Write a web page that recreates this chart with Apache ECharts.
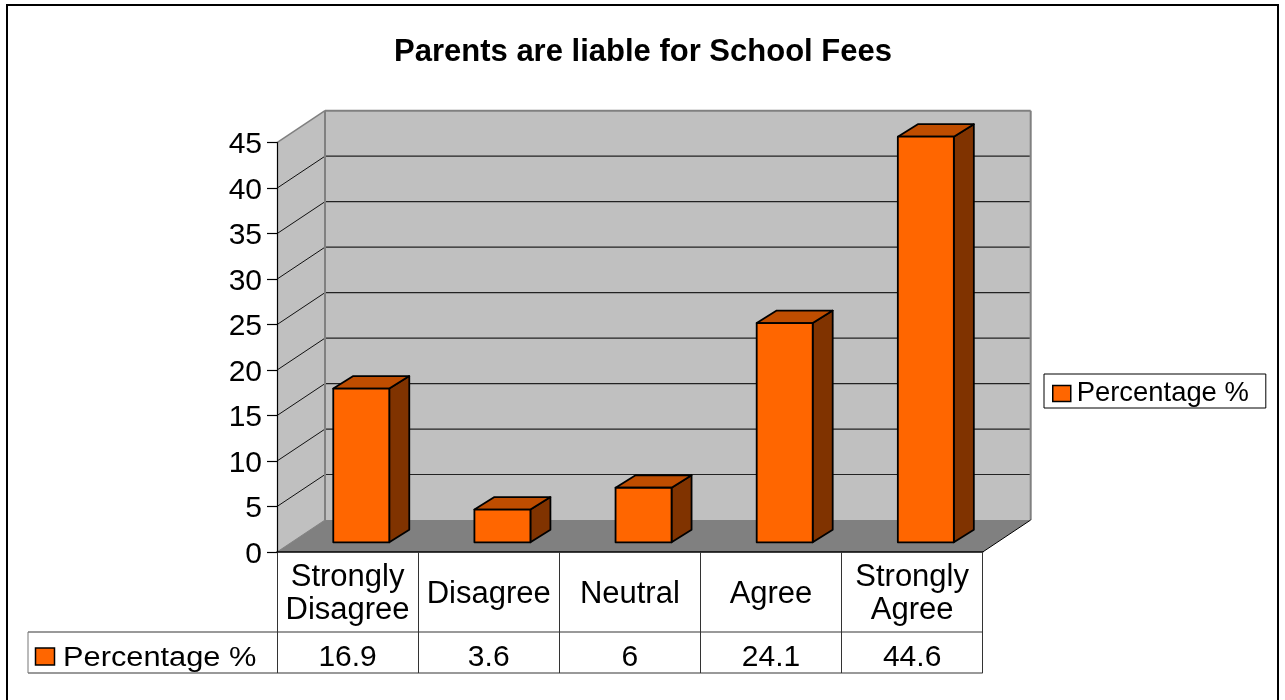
<!DOCTYPE html>
<html>
<head>
<meta charset="utf-8">
<style>html,body{margin:0;padding:0;background:#fff}#c{width:1285px;height:700px}</style>
<script src="https://cdn.jsdelivr.net/npm/echarts@6/dist/echarts.min.js"></script>
</head>
<body>
<div id="c"></div>
<script>
const titleText = 'Parents are liable for School Fees';
const seriesName = 'Percentage %';
const categories = ['Strongly\nDisagree', 'Disagree', 'Neutral', 'Agree', 'Strongly\nAgree'];
const values = [16.9, 3.6, 6, 24.1, 44.6];
const valueLabels = ['16.9', '3.6', '6', '24.1', '44.6'];
const yTicks = [0, 5, 10, 15, 20, 25, 30, 35, 40, 45];

const FONT = '"Liberation Sans", Arial, sans-serif';
const G = {left: 277, top: 142.7, width: 705.7, height: 409.3};
const WALL = {dx: 48, dy: -32};
const BAR = {ox: -14.3, w: 56, oy: -9.7, dx: 20, dy: -12.5};
const GREY = '#808080';

function poly(points, fill, stroke, lw) {
  return {type: 'polygon', shape: {points}, style: {fill, stroke: stroke || null, lineWidth: lw || 0, lineJoin: 'round'}};
}
function seg(x1, y1, x2, y2, stroke, lw) {
  return {type: 'line', shape: {x1, y1, x2, y2}, style: {stroke, lineWidth: lw}};
}

function renderWalls(params, api) {
  const b = api.coord([0, 0]), t = api.coord([0, 45]);
  const xL = G.left, xR = G.left + G.width, y0 = b[1], yT = t[1];
  const d = WALL;
  return {type: 'group', children: [
    poly([[xL, y0], [xL + d.dx, y0 + d.dy], [xL + d.dx, yT + d.dy], [xL, yT]], '#C0C0C0'),
    poly([[xL + d.dx, y0 + d.dy], [xR + d.dx, y0 + d.dy], [xR + d.dx, yT + d.dy], [xL + d.dx, yT + d.dy]], '#C0C0C0'),
    poly([[xL, y0], [xR, y0], [xR + d.dx, y0 + d.dy], [xL + d.dx, y0 + d.dy]], GREY),
    seg(xL, yT, xL + d.dx, yT + d.dy, GREY, 1.5),
    seg(xL + d.dx, yT + d.dy, xR + d.dx, yT + d.dy, GREY, 2),
    seg(xR + d.dx, yT + d.dy, xR + d.dx, y0 + d.dy, GREY, 2),
    seg(xL + d.dx, yT + d.dy, xL + d.dx, y0 + d.dy, GREY, 2),
    seg(xR, y0, xR + d.dx, y0 + d.dy, '#000', 1),
    seg(xL, y0, xL + d.dx, y0 + d.dy, GREY, 1)
  ]};
}
function renderGrid(params, api) {
  const tick = api.value(1);
  const p = api.coord([0, tick]);
  const xL = G.left, xR = G.left + G.width, y = p[1], d = WALL;
  return {type: 'group', children: [
    seg(xL, y, xL + d.dx - 1, y + d.dy + 0.7, '#111', 1),
    seg(xL + d.dx + 1, y + d.dy, xR + d.dx - 1, y + d.dy, '#222', 1.2)
  ]};
}
function renderBar(params, api) {
  const c = api.coord([api.value(0), api.value(1)]);
  const base = api.coord([api.value(0), 0]);
  const x0 = c[0] + BAR.ox, x1 = x0 + BAR.w;
  const yB = base[1] + BAR.oy, yT = c[1] + BAR.oy;
  const dx = BAR.dx, dy = BAR.dy, S = '#000', L = 1.8;
  return {type: 'group', children: [
    poly([[x1, yB], [x1 + dx, yB + dy], [x1 + dx, yT + dy], [x1, yT]], '#803300', S, L),
    poly([[x0, yT], [x1, yT], [x1 + dx, yT + dy], [x0 + dx, yT + dy]], '#BF4D00', S, L),
    poly([[x0, yB], [x1, yB], [x1, yT], [x0, yT]], '#FF6600', S, L)
  ]};
}

const chart = echarts.init(document.getElementById('c'));
chart.setOption({
  animation: false,
  backgroundColor: '#fff',
  title: {
    text: titleText, left: 638, top: 32, textAlign: 'center',
    textStyle: {fontFamily: FONT, fontWeight: 'bold', fontSize: 31, color: '#000'}
  },
  legend: {
    data: [{name: seriesName, icon: 'rect', itemStyle: {color: '#FF6600', borderColor: '#000', borderWidth: 1.5}}],
    left: 1044, top: 374, orient: 'vertical', selectedMode: false,
    backgroundColor: '#fff', borderColor: '#000', borderWidth: 1, borderRadius: 0,
    padding: [6, 17, 1, 8], itemWidth: 18, itemHeight: 16, itemGap: 0,
    textStyle: {fontFamily: FONT, fontSize: 27.4, color: '#000', padding: [0, 0, 0, 1]}
  },
  grid: G,
  xAxis: [{
    type: 'category', data: categories, position: 'bottom', z: 5,
    axisLine: {show: true, lineStyle: {color: '#000', width: 1.5}},
    axisTick: {show: true, length: 121, lineStyle: {color: '#333', width: 1}},
    splitLine: {show: false},
    axisLabel: {interval: 0, margin: 42, verticalAlign: 'middle', lineHeight: 33, fontFamily: FONT, fontSize: 31, color: '#000'}
  }, {
    type: 'category', data: valueLabels, position: 'bottom', z: 5,
    axisLine: {show: false}, axisTick: {show: false}, splitLine: {show: false},
    axisLabel: {interval: 0, margin: 106, verticalAlign: 'middle', fontFamily: FONT, fontSize: 30, color: '#000'}
  }],
  yAxis: {
    type: 'value', position: 'left', min: 0, max: 45, interval: 5, z: 50,
    axisLine: {show: true, onZero: false, lineStyle: {color: '#000', width: 1.2}},
    axisTick: {show: true, inside: false, length: 10, lineStyle: {color: '#000', width: 1.2}},
    splitLine: {show: false},
    axisLabel: {margin: 15, verticalAlign: 'top', lineHeight: 5, fontFamily: FONT, fontSize: 30, color: '#000'}
  },
  graphic: [
    {type: 'line', shape: {x1: 6, y1: 5, x2: 1279, y2: 5}, style: {stroke: '#000', lineWidth: 2}},
    {type: 'line', shape: {x1: 7, y1: 4, x2: 7, y2: 700}, style: {stroke: '#000', lineWidth: 2}},
    {type: 'line', shape: {x1: 1278, y1: 4, x2: 1278, y2: 700}, style: {stroke: '#000', lineWidth: 2}},
    {type: 'line', shape: {x1: 28, y1: 632, x2: 982.7, y2: 632}, style: {stroke: '#777', lineWidth: 1.5}},
    {type: 'line', shape: {x1: 28, y1: 673, x2: 982.7, y2: 673}, style: {stroke: '#777', lineWidth: 1.5}},
    {type: 'line', shape: {x1: 28, y1: 632, x2: 28, y2: 673}, style: {stroke: '#777', lineWidth: 1}},
    {type: 'rect', shape: {x: 35.5, y: 648, width: 19, height: 17}, style: {fill: '#FF6600', stroke: '#000', lineWidth: 1.5}},
    {type: 'text', x: 63, y: 659, scaleX: 1.14, style: {text: seriesName, fontFamily: FONT, fontSize: 27, fill: '#000', verticalAlign: 'middle'}}
  ],
  series: [
    {type: 'custom', name: 'walls', silent: true, z: 1, xAxisIndex: 0, data: [[0, 0]], renderItem: renderWalls},
    {type: 'custom', name: 'gridlines', silent: true, z: 1.5, xAxisIndex: 0, data: yTicks.slice(1, -1).map(t => [0, t]), renderItem: renderGrid},
    {type: 'custom', name: seriesName, silent: true, z: 3, xAxisIndex: 0, itemStyle: {color: '#FF6600'},
     data: values.map((v, i) => [i, v]), encode: {x: 0, y: 1}, renderItem: renderBar}
  ]
});
</script>
</body>
</html>
